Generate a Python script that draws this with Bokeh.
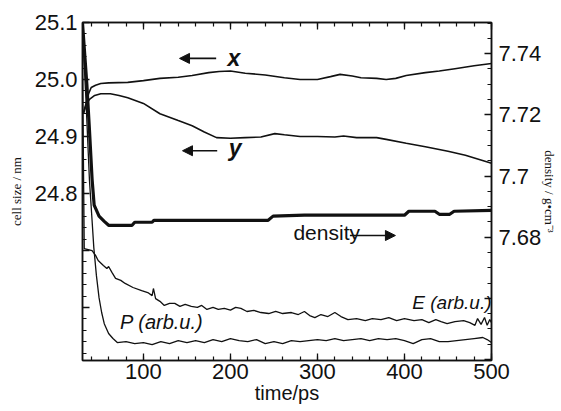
import numpy as np
from bokeh.plotting import figure
from bokeh.models import (Range1d, LinearAxis, FixedTicker, CustomJSTickFormatter,
                          Label, Arrow, NormalHead)
from bokeh.embed import file_html
from bokeh.resources import INLINE

# ---------------- data ----------------
t_x = [31, 34, 37, 40, 45, 51, 60, 82, 100, 119, 140, 156, 175, 187, 200, 217, 240, 262,
       280, 300, 315, 326, 340, 350, 368, 379, 390, 402, 424, 440, 458, 480, 500]
cell_x = [24.94, 24.958, 24.975, 24.986, 24.99, 24.993, 24.994, 24.995, 24.998, 25.002,
          25.004, 25.007, 25.012, 25.014, 25.015, 25.011, 25.008, 25.003, 25.0, 25.0,
          25.005, 25.009, 25.006, 25.003, 25.002, 25.0, 25.002, 25.007, 25.012, 25.015,
          25.019, 25.024, 25.028]

t_y = [31, 34, 38, 44, 51, 62, 72, 82, 100, 119, 140, 156, 170, 184, 200, 217, 235, 251,
       262, 280, 300, 320, 330, 345, 368, 379, 402, 424, 450, 470, 500]
cell_y = [24.94, 24.955, 24.965, 24.972, 24.975, 24.975, 24.972, 24.968, 24.958, 24.94,
          24.928, 24.919, 24.908, 24.898, 24.897, 24.898, 24.899, 24.905, 24.903, 24.9,
          24.9, 24.899, 24.901, 24.898, 24.898, 24.895, 24.888, 24.882, 24.874, 24.867,
          24.853]

t_rho = [30, 35, 38, 41, 43.4, 49, 55, 60, 87, 90, 110, 112, 243, 249, 285, 400, 405,
         435, 440, 452, 457, 500]
density = [7.75, 7.73, 7.715, 7.699, 7.6905, 7.6869, 7.6852, 7.6839, 7.6839, 7.6849,
           7.6849, 7.6855, 7.6855, 7.6869, 7.6872, 7.6872, 7.6885, 7.6885, 7.6875,
           7.6875, 7.6885, 7.6888]

t_E = [30, 32, 41, 45, 48, 54, 58, 60, 64, 68, 74, 79, 88, 98, 105, 110, 111.5, 114, 119,
       124, 130, 136, 142, 148, 155, 162, 167, 173, 180, 186, 193, 200, 206, 212, 219,
       227, 235, 244, 252, 260, 270, 278, 285, 291, 297, 304, 312, 320, 327, 335, 345,
       355, 363, 373, 382, 391, 400, 411, 420, 428, 436, 442, 449, 458, 468, 475, 481,
       484, 488, 492, 495, 498, 500]
E_arb = [8.88, 3.31, 3.25, 3.11, 2.96, 2.81, 2.72, 2.78, 2.60, 2.43, 2.37, 2.28, 2.16,
         2.07, 2.01, 1.92, 2.13, 1.83, 1.75, 1.63, 1.69, 1.69, 1.60, 1.66, 1.60, 1.57,
         1.63, 1.51, 1.57, 1.51, 1.54, 1.49, 1.57, 1.54, 1.45, 1.48, 1.42, 1.39, 1.45,
         1.39, 1.42, 1.36, 1.45, 1.33, 1.27, 1.36, 1.30, 1.42, 1.30, 1.21, 1.24, 1.18,
         1.24, 1.21, 1.27, 1.18, 1.24, 1.18, 1.21, 1.12, 1.21, 1.15, 1.09, 1.15, 1.18,
         1.12, 1.04, 1.24, 1.07, 1.27, 1.04, 1.21, 1.12]

t_P = [30, 34, 38, 41, 43, 46, 49, 52, 55, 60, 65, 70, 80, 90, 100, 110, 120, 130, 140,
       150, 160, 170, 180, 190, 200, 210, 220, 230, 240, 250, 260, 270, 280, 290, 300,
       310, 320, 330, 340, 350, 360, 370, 380, 390, 400, 410, 420, 430, 440, 450, 460,
       470, 480, 490, 495, 500]
P_arb = [9.76, 7.69, 5.33, 4.14, 3.34, 2.51, 1.86, 1.42, 1.09, 0.80, 0.65, 0.53, 0.56,
         0.50, 0.53, 0.47, 0.56, 0.50, 0.59, 0.53, 0.59, 0.53, 0.62, 0.56, 0.65, 0.59,
         0.56, 0.62, 0.50, 0.56, 0.50, 0.59, 0.56, 0.59, 0.62, 0.59, 0.65, 0.59, 0.62,
         0.65, 0.59, 0.65, 0.62, 0.65, 0.59, 0.50, 0.62, 0.65, 0.56, 0.56, 0.59, 0.62,
         0.65, 0.68, 0.62, 0.53]

x_ticks = [100, 200, 300, 400, 500]
left_ticks = [24.6, 24.7, 24.8, 24.9, 25.0, 25.1]
right_ticks = [7.64, 7.66, 7.68, 7.70, 7.72, 7.74]

# ---------------- figure ----------------
INK = "#111111"
TICK_FONT = "Liberation Sans"

p = figure(width=560, height=410, output_backend="svg", toolbar_location=None,
           x_range=Range1d(30, 500), y_range=Range1d(24.507, 25.1),
           min_border_left=82, min_border_right=65, min_border_top=22,
           min_border_bottom=50, background_fill_color="white",
           border_fill_color="white")
p.extra_y_ranges = {"rho": Range1d(7.6397, 7.7502), "arb": Range1d(0, 10)}
p.xgrid.visible = False
p.ygrid.visible = False
p.outline_line_color = INK
p.outline_line_width = 1.5

def style_axis(ax):
    ax.major_tick_in = 7
    ax.major_tick_out = 0
    ax.minor_tick_in = 4
    ax.minor_tick_out = 0
    ax.axis_line_color = INK
    ax.axis_line_width = 1.5
    ax.major_tick_line_color = INK
    ax.minor_tick_line_color = INK
    ax.major_tick_line_width = 1.3
    ax.minor_tick_line_width = 1.2
    ax.major_label_text_font = TICK_FONT
    ax.major_label_text_font_size = "22px"
    ax.major_label_text_color = INK
    ax.major_label_standoff = 5
    ax.axis_label_text_color = INK
    ax.axis_label_text_font_style = "normal"

x_ticker = FixedTicker(ticks=x_ticks, minor_ticks=list(range(40, 501, 20)))
xa = p.xaxis[0]
xa.ticker = x_ticker
style_axis(xa)
xa.major_label_standoff = 3
xa.axis_label = "time/ps"
xa.axis_label_text_font = TICK_FONT
xa.axis_label_text_font_size = "20px"
xa.axis_label_standoff = 0

top = LinearAxis(ticker=x_ticker, formatter=CustomJSTickFormatter(code="return ''"))
style_axis(top)
top.major_label_text_font_size = "0px"
p.add_layout(top, "above")

ya = p.yaxis[0]
ya.ticker = FixedTicker(ticks=left_ticks,
                        minor_ticks=[round(v, 2) for v in np.arange(24.52, 25.1, 0.02)])
ya.formatter = CustomJSTickFormatter(code="return tick > 24.75 ? tick.toFixed(1) : '';")
style_axis(ya)
ya.axis_label = "cell size / nm"
ya.axis_label_text_font = "Liberation Serif"
ya.axis_label_text_font_size = "13px"
ya.axis_label_standoff = 8

ra = LinearAxis(y_range_name="rho",
                ticker=FixedTicker(ticks=right_ticks,
                                   minor_ticks=[round(v, 3) for v in np.arange(7.64, 7.751, 0.005)]),
                formatter=CustomJSTickFormatter(
                    code="if (tick < 7.675) return ''; return String(Math.round(tick*100)/100);"))
style_axis(ra)
ra.major_label_standoff = 7
ra.axis_label = "density / g•cm⁻³"
ra.axis_label_text_font = "Liberation Serif"
ra.axis_label_text_font_size = "13px"
ra.axis_label_standoff = -2
p.add_layout(ra, "right")

# ---------------- curves ----------------
p.line(t_x, cell_x, line_color=INK, line_width=1.6)
p.line(t_y, cell_y, line_color=INK, line_width=1.6)
p.line(t_rho, density, line_color=INK, line_width=3.2, y_range_name="rho")
p.line(t_E, E_arb, line_color=INK, line_width=1.3, y_range_name="arb")
p.line(t_P, P_arb, line_color=INK, line_width=1.3, y_range_name="arb")

# ---------------- annotations ----------------
def lab(x, y, text, size, font="Liberation Sans", style="normal", align="center"):
    p.add_layout(Label(x=x, y=y, text=text, text_font=font, text_font_size=size,
                       text_font_style=style, text_color=INK, text_align=align,
                       text_baseline="middle"))

def arrow(x0, x1, y):
    p.add_layout(Arrow(x_start=x0, y_start=y, x_end=x1, y_end=y, line_color=INK,
                       line_width=1.6,
                       end=NormalHead(size=10, fill_color=INK, line_color=INK)))

arrow(183.6, 141.5, 25.037)
lab(204.1, 25.037, "x", "23px", style="bold italic")
arrow(184.8, 144.9, 24.875)
lab(205.3, 24.879, "y", "23px", style="bold italic")

lab(272.4, 24.7316, "density", "21px", align="left")
arrow(337.3, 389.6, 24.7263)

lab(73.2, 24.5737, "P (arb.u.)", "20px", style="italic", align="left")
lab(409.0, 24.609, "E (arb.u.)", "19px", style="italic", align="left")

open("out.html", "w").write(file_html(p, INLINE))
